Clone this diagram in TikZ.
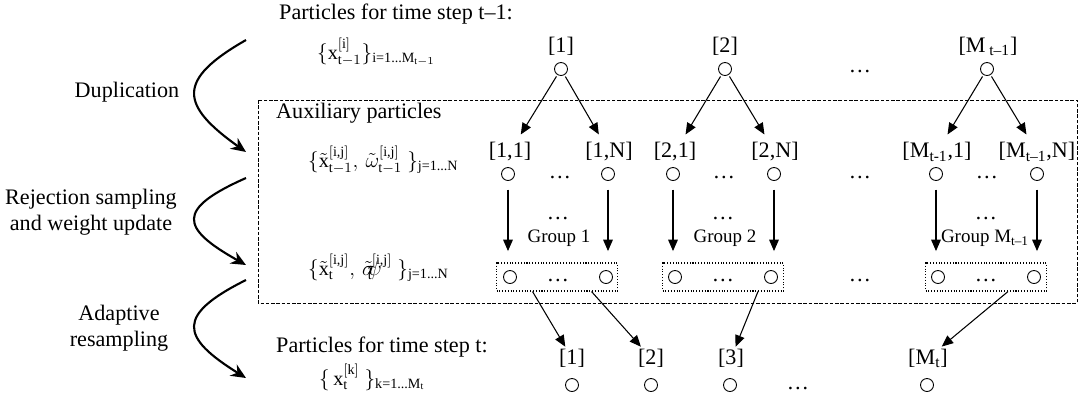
\documentclass[tikz,border=0pt]{standalone}
\usepackage{amsmath}
\usepackage{fontspec}
\setmainfont{Liberation Serif}
\usepackage{tikz}
\usetikzlibrary{arrows.meta}

\newcommand{\rt}[1]{\text{#1}}

\begin{document}
\begin{tikzpicture}[
  x=0.02cm,
  y=-0.02cm,
  font=\fontsize{12.6}{15}\selectfont,
  particle/.style={
    draw,
    circle,
    line width=0.5pt,
    minimum size=0.26cm,
    inner sep=0pt
  },
  idx/.style={
    inner sep=1pt
  },
  setnote/.style={
    anchor=west,
    font=\fontsize{11.5}{14}\selectfont
  },
  groupbox/.style={
    draw,
    densely dotted,
    line width=0.6pt,
    minimum width=2.42cm,
    minimum height=0.56cm
  },
  grouplabel/.style={
    font=\fontsize{10.8}{13}\selectfont
  },
  arr/.style={
    line width=0.6pt,
    -{Triangle[length=6.5pt, width=5.5pt]}
  },
  phasearr/.style={
    line width=1.2pt,
    -{Stealth[length=8.5pt, width=7.5pt]}
  }
]

\useasboundingbox (0,0) rectangle (1079,400);

% Auxiliary area
\draw[dash pattern=on 2pt off 1pt, line width=0.5pt] (258,100) rectangle (1077,303);

% Titles
\node[anchor=west] (ttop) at (273,14) {Particles for time step t--1:};
\node[anchor=west] (taux) at (270,113) {Auxiliary particles};
\node[anchor=west] (tbot) at (270,347) {Particles for time step t:};

% -------------------------------------------------------------------
% Set notation, left
% -------------------------------------------------------------------
\node[setnote] (set1) at (311,52)
{$\{\rt{x}^{[\rt{i}]}_{\rt{t}-1}\}_{\rt{i=1...M}_{\rt{t}-1}}$};
\node[setnote] (set2) at (302,160)
{$\{\tilde{\rt{x}}^{[\rt{i,j}]}_{\rt{t}-1},\, \tilde{\omega}^{[\rt{i,j}]}_{\rt{t}-1}\ \}_{\rt{j=1...N}}$};
\node[setnote] (set3) at (302,268)
{$\{\tilde{\rt{x}}^{[\rt{i,j}]}_{\rt{t}},\, \tilde{\sigma}\mkern-6mu\psi^{\mkern-12mu[\rt{i,j}]}_{\mkern-16mu\rt{t}}\ \}_{\rt{j=1...N}}$};
\node[setnote] (set4) at (313,377)
{$\{\,\rt{x}^{[\rt{k}]}_{\rt{t}}\ \}_{\rt{k=1...M}_{\rt{t}}}$};

% -------------------------------------------------------------------
% Steps, left
% -------------------------------------------------------------------
\node (sdup) at (127,92) {Duplication};
\node[align=center] (srej) at (91,212) {Rejection sampling\\and weight update};
\node[align=center] (sres) at (119,328) {Adaptive\\resampling};

\coordinate (dup0) at (246,40);
\coordinate (dup1) at (246,152);
\coordinate (rej0) at (246,178);
\coordinate (rej1) at (246,265);
\coordinate (res0) at (246,280);
\coordinate (res1) at (246,378);

\draw[phasearr] (dup0) .. controls (176,80) and (180,105) .. (dup1);
\draw[phasearr] (rej0) .. controls (176,209) and (180,228) .. (rej1);
\draw[phasearr] (res0) .. controls (176,315) and (180,337) .. (res1);

% -------------------------------------------------------------------
% Particles at t-1
% -------------------------------------------------------------------
\node[idx] (lp1) at (561,46) {[1]};
\node[idx] (lp2) at (725,46) {[2]};
\node[idx] (lpM) at (988,46) {[M\,\textsubscript{t--1}]};
\node[particle] (p1) at (561,69) {};
\node[particle] (p2) at (725,69) {};
\node[particle] (pM) at (987,69) {};
\node (dp) at (860,72) {\dots};

% -------------------------------------------------------------------
% Auxiliary particles
% -------------------------------------------------------------------
\node[idx] (la11) at (510,152) {[1,1]};
\node[idx] (la1N) at (609,152) {[1,N]};
\node[idx] (la21) at (675,152) {[2,1]};
\node[idx] (la2N) at (775,152) {[2,N]};
\node[idx] (laM1) at (937,152) {[M\textsubscript{t-1},1]};
\node[idx] (laMN) at (1037,152) {[M\textsubscript{t--1},N]};

\node[particle] (a11) at (508,174) {};
\node[particle] (a1N) at (608,174) {};
\node[particle] (a21) at (673,174) {};
\node[particle] (a2N) at (774,174) {};
\node[particle] (aM1) at (936,174) {};
\node[particle] (aMN) at (1037,174) {};

\node (da1) at (560,177) {\dots};
\node (da2) at (724,177) {\dots};
\node (da) at (860,177) {\dots};
\node (daM) at (987,177) {\dots};

% duplication arrows
\foreach \p/\a/\b in {p1/la11/la1N, p2/la21/la2N, pM/laM1/laMN}{
  \draw[arr, shorten <=1pt, shorten >=4pt] (\p) -- (\a);
  \draw[arr, shorten <=1pt, shorten >=4pt] (\p) -- (\b);
}

% -------------------------------------------------------------------
% Groups
% -------------------------------------------------------------------
\node[groupbox] (grp1) at (557,277) {};
\node[groupbox] (grp2) at (723,277) {};
\node[groupbox] (grpM) at (986,277) {};

\node[particle] (g1a) at (510,277) {};
\node[particle] (g1b) at (606,277) {};
\node[particle] (g2a) at (675,277) {};
\node[particle] (g2b) at (771,277) {};
\node[particle] (gMa) at (938,277) {};
\node[particle] (gMb) at (1034,277) {};

\node (dg1) at (558,280) {\dots};
\node (dg2) at (723,280) {\dots};
\node (dg) at (860,280) {\dots};
\node (dgM) at (986,280) {\dots};

\node (dv1) at (558,218) {\dots};
\node (dv2) at (723,218) {\dots};
\node (dvM) at (986,218) {\dots};

\node[grouplabel] (nm1) at (559,238) {Group 1};
\node[grouplabel] (nm2) at (725,238) {Group 2};
\node[grouplabel] (nmM) at (985,238) {Group M\textsubscript{t--1}};

% rejection sampling arrows
\foreach \a/\g in {a11/grp1, a1N/grp1, a21/grp2, a2N/grp2, aM1/grpM, aMN/grpM}{
  \draw[arr, shorten <=5pt, shorten >=6.5pt] (\a) -- (\a |- \g.north);
}

% -------------------------------------------------------------------
% Particles at t
% -------------------------------------------------------------------
\node[idx] (lq1) at (572,358) {[1]};
\node[idx] (lq2) at (651,358) {[2]};
\node[idx] (lq3) at (731,358) {[3]};
\node[idx] (lqM) at (928,358) {[M\textsubscript{t}]};
\node[particle] (q1) at (572,385) {};
\node[particle] (q2) at (651,385) {};
\node[particle] (q3) at (730,385) {};
\node[particle] (qM) at (927,385) {};
\node (dq) at (798,388) {\dots};

% resampling arrows
\draw[arr] ([xshift=-0.49cm]grp1.south) -- (lq1);
\draw[arr] ([xshift=0.69cm]grp1.south) -- (lq2);
\draw[arr] ([xshift=0.70cm]grp2.south) -- (lq3);
\draw[arr] ([xshift=0.44cm]grpM.south) -- (lqM);

\end{tikzpicture}
\end{document}
